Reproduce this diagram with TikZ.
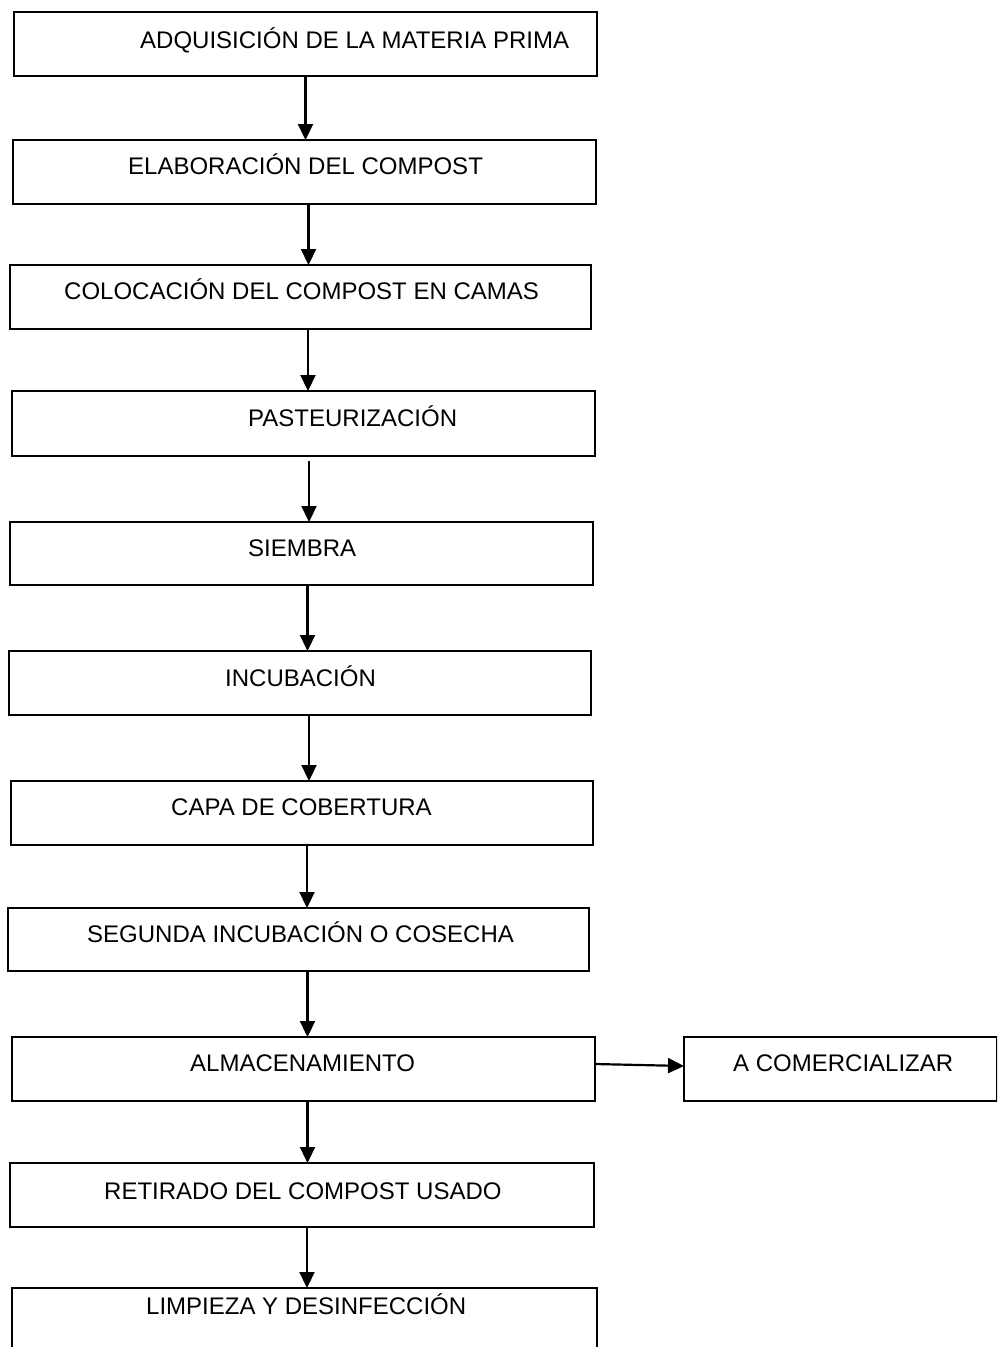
\documentclass[tikz,border=0pt]{standalone}
\usepackage{fontspec}
\setmainfont{Liberation Sans}
\usetikzlibrary{arrows.meta}
\begin{document}
\begin{tikzpicture}[x=1pt,y=-1pt,
  box/.style={draw=black,line width=1.5pt,rectangle,anchor=north west,inner sep=0pt,outer sep=0pt},
  txt/.style={anchor=base west,inner sep=0pt,font=\fontsize{24}{28}\selectfont},
  arr/.style={line width=2.2pt,-{Triangle[length=16pt,width=15pt]}}]
\useasboundingbox (0,0) rectangle (997,1347);
\clip (0,0) rectangle (997,1347);
\node[box,minimum width=583pt,minimum height=64pt] (b1) at (14,12) {};
\node[box,minimum width=583pt,minimum height=64pt] (b2) at (13,140) {};
\node[box,minimum width=581pt,minimum height=64pt] (b3) at (10,265) {};
\node[box,minimum width=583pt,minimum height=65pt] (b4) at (12,391) {};
\node[box,minimum width=583pt,minimum height=63pt] (b5) at (10,522) {};
\node[box,minimum width=582pt,minimum height=64pt] (b6) at (9,651) {};
\node[box,minimum width=582pt,minimum height=64pt] (b7) at (11,781) {};
\node[box,minimum width=581pt,minimum height=63pt] (b8) at (8,908) {};
\node[box,minimum width=583pt,minimum height=64pt] (b9) at (12,1037) {};
\node[box,minimum width=313pt,minimum height=64pt] (b10) at (684,1037) {};
\node[box,minimum width=584pt,minimum height=64pt] (b11) at (10,1163) {};
\node[box,minimum width=585pt,minimum height=80pt] (b12) at (12,1288) {};
\node[txt] (t1) at (140,48) {ADQUISICIÓN DE LA MATERIA PRIMA};
\node[txt] (t2) at (128,174) {ELABORACIÓN DEL COMPOST};
\node[txt] (t3) at (64,299) {COLOCACIÓN DEL COMPOST EN CAMAS};
\node[txt] (t4) at (248,426) {PASTEURIZACIÓN};
\node[txt] (t5) at (248,556) {SIEMBRA};
\node[txt] (t6) at (225,686) {INCUBACIÓN};
\node[txt] (t7) at (171,815) {CAPA DE COBERTURA};
\node[txt] (t8) at (87,942) {SEGUNDA INCUBACIÓN O COSECHA};
\node[txt] (t9) at (190,1071) {ALMACENAMIENTO};
\node[txt] (t10) at (733,1071) {A COMERCIALIZAR};
\node[txt] (t11) at (104,1199) {RETIRADO DEL COMPOST USADO};
\node[txt] (t12) at (146,1314) {LIMPIEZA Y DESINFECCIÓN};
\draw[arr] ([xshift=0pt]b1.south) -- ([xshift=0pt]b1.south |- b2.north);
\draw[arr] ([xshift=4pt]b2.south) -- ([xshift=4pt]b2.south |- b3.north);
\draw[arr] ([xshift=7.5pt]b3.south) -- ([xshift=7.5pt]b3.south |- b4.north);
\draw[arr] ([xshift=5.5pt,yshift=-5pt]b4.south) -- ([xshift=5.5pt]b4.south |- b5.north);
\draw[arr] ([xshift=6pt]b5.south) -- ([xshift=6pt]b5.south |- b6.north);
\draw[arr] ([xshift=9pt]b6.south) -- ([xshift=9pt]b6.south |- b7.north);
\draw[arr] ([xshift=5pt]b7.south) -- ([xshift=5pt]b7.south |- b8.north);
\draw[arr] ([xshift=9pt]b8.south) -- ([xshift=9pt]b8.south |- b9.north);
\draw[arr] ([xshift=4pt]b9.south) -- ([xshift=4pt]b9.south |- b11.north);
\draw[arr] ([xshift=5pt]b11.south) -- ([xshift=5pt]b11.south |- b12.north);
\draw[arr] ([yshift=5pt]b9.east) -- ([yshift=3pt]b10.west);
\end{tikzpicture}
\end{document}
